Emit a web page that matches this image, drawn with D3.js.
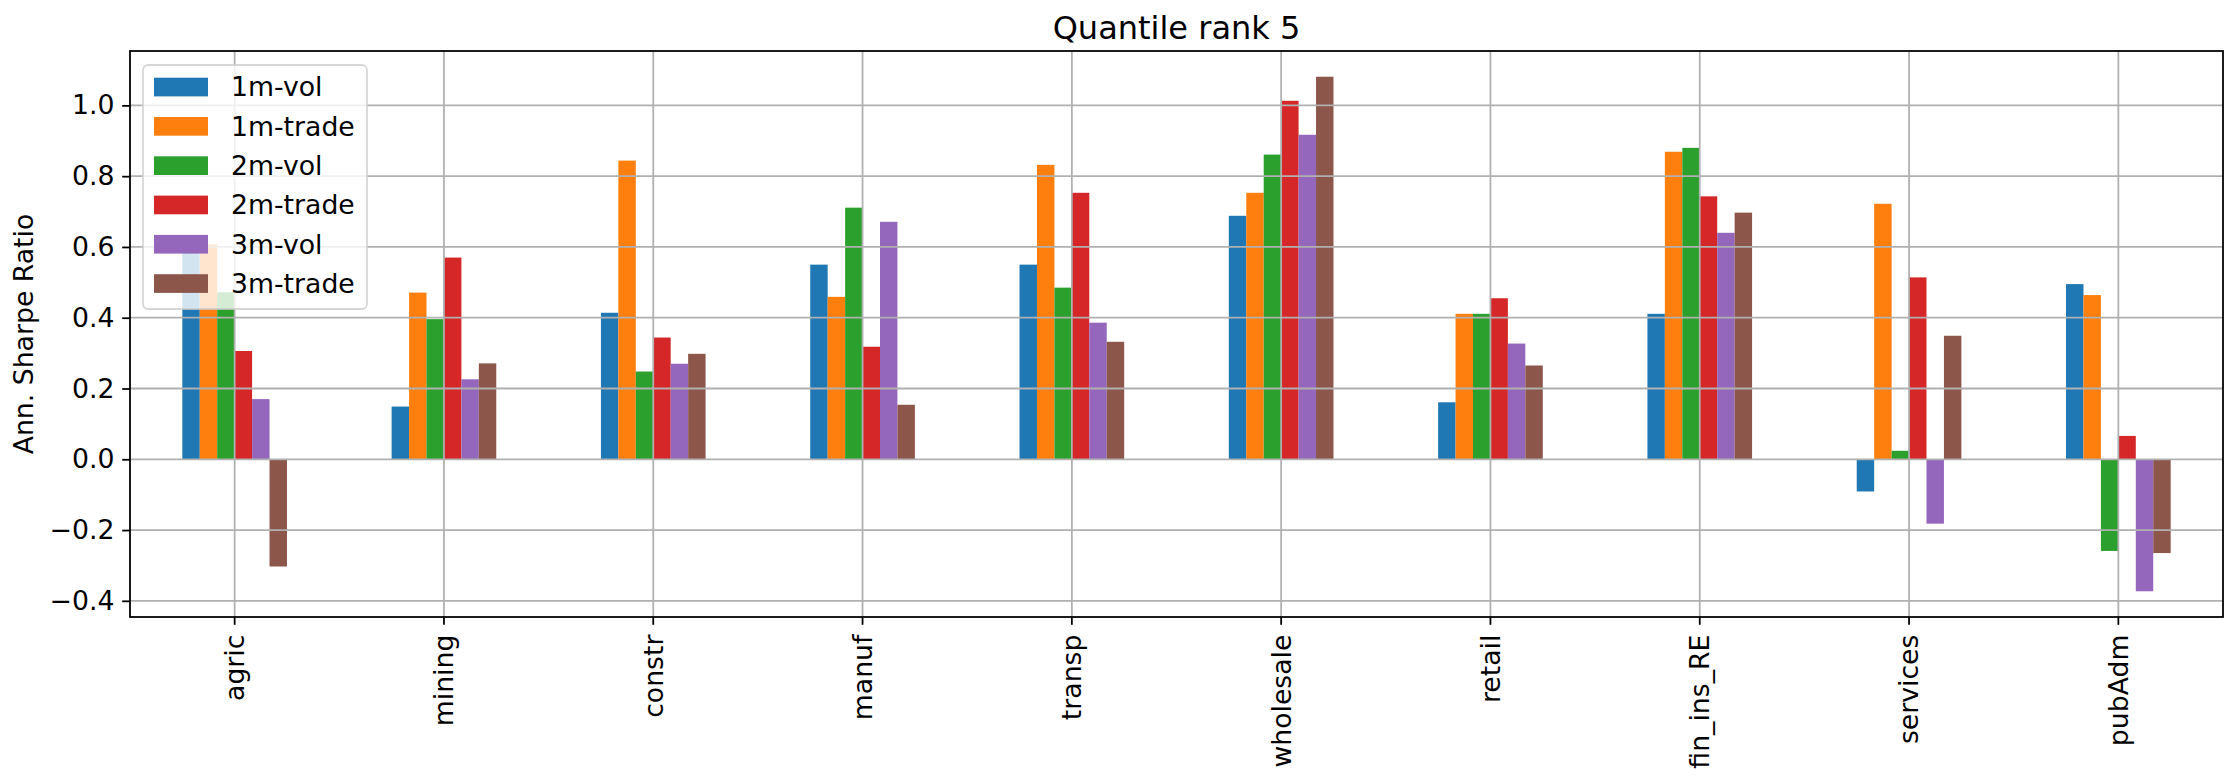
<!DOCTYPE html>
<html>
<head>
<meta charset="utf-8">
<script src="https://cdn.jsdelivr.net/npm/d3@7"></script>
<style>
  body { margin: 0; background: #fff; }
  text { font-family: "DejaVu Sans", sans-serif; }
</style>
</head>
<body>
<div id="chart"></div>
<script>
const categories = ["agric", "mining", "constr", "manuf", "transp", "wholesale", "retail", "fin_ins_RE", "services", "pubAdm"]
const seriesNames = ["1m-vol", "1m-trade", "2m-vol", "2m-trade", "3m-vol", "3m-trade"]

const vol1m   = [0.600, 0.149, 0.414, 0.550, 0.550, 0.688, 0.161, 0.411, -0.091, 0.495]
const trade1m = [0.607, 0.471, 0.844, 0.459, 0.832, 0.753, 0.411, 0.869, 0.722, 0.464]
const vol2m   = [0.472, 0.396, 0.248, 0.711, 0.485, 0.861, 0.411, 0.880, 0.024, -0.259]
const trade2m = [0.306, 0.570, 0.344, 0.318, 0.753, 1.013, 0.455, 0.743, 0.514, 0.066]
const vol3m   = [0.170, 0.226, 0.270, 0.671, 0.386, 0.917, 0.327, 0.640, -0.182, -0.373]
const trade3m = [-0.303, 0.271, 0.298, 0.154, 0.332, 1.081, 0.265, 0.697, 0.349, -0.265]

const yTicks = [-0.4, -0.2, 0.0, 0.2, 0.4, 0.6, 0.8, 1.0]
const colors = ["#1f77b4", "#ff7f0e", "#2ca02c", "#d62728", "#9467bd", "#8c564b"]

const seriesValues = [vol1m, trade1m, vol2m, trade2m, vol3m, trade3m]

const width = 2237,
      height = 783,
      margin = {top: 51, right: 14, bottom: 166, left: 130}

const fs = 26.7, tickLen = 7.8, tickPad = 7.8, lw = 1.78

// flat rows for the bars
const rows = []
categories.forEach((c, i) => {
  seriesNames.forEach((s, j) => rows.push({cat: c, series: s, value: seriesValues[j][i], color: colors[j]}))
})

const all = rows.map(d => d.value)
const lo = d3.min(all), hi = d3.max(all), pad = (hi - lo) * 0.05

let x = d3.scaleBand()
    .domain(categories)
    .range([margin.left, width - margin.right])
    .padding(0)

let xInner = d3.scaleBand()
    .domain(seriesNames)
    .range([x.bandwidth() * 0.25, x.bandwidth() * 0.75])
    .padding(0)

let y = d3.scaleLinear()
    .domain([lo - pad, hi + pad])
    .range([height - margin.bottom, margin.top])

const svg = d3.select("#chart")
  .append("svg")
    .attr("width", width)
    .attr("height", height)
    .attr("viewBox", [0, 0, width, height])

// bars
svg.append("g")
  .selectAll("rect")
  .data(rows)
  .join("rect")
    .attr("x", d => x(d.cat) + xInner(d.series))
    .attr("width", xInner.bandwidth())
    .attr("y", d => y(Math.max(0, d.value)))
    .attr("height", d => Math.abs(y(d.value) - y(0)))
    .attr("fill", d => d.color)

// grid lines (drawn over the bars, like matplotlib)
const grid = svg.append("g")
    .attr("stroke", "#b0b0b0")
    .attr("stroke-width", lw)
grid.selectAll("line.h")
  .data(yTicks)
  .join("line")
    .attr("class", "h")
    .attr("x1", margin.left).attr("x2", width - margin.right)
    .attr("y1", d => y(d)).attr("y2", d => y(d))
grid.selectAll("line.v")
  .data(categories)
  .join("line")
    .attr("class", "v")
    .attr("x1", d => x(d) + x.bandwidth() / 2).attr("x2", d => x(d) + x.bandwidth() / 2)
    .attr("y1", margin.top).attr("y2", height - margin.bottom)

// axes
let xAxis = g => g
    .attr("transform", `translate(0,${height - margin.bottom})`)
    .call(d3.axisBottom(x).tickSize(tickLen).tickSizeOuter(0))
    .call(g => g.select(".domain").remove())
    .call(g => g.selectAll(".tick line").attr("stroke", "#000").attr("stroke-width", lw))
    .call(g => g.selectAll(".tick text")
        .attr("transform", "rotate(-90)")
        .attr("x", -(tickLen + tickPad + 2))
        .attr("y", 0)
        .attr("dy", "0.35em")
        .attr("text-anchor", "end")
        .attr("fill", "#000")
        .attr("font-size", fs)
        .attr("font-family", "DejaVu Sans"))

let yAxis = g => g
    .attr("transform", `translate(${margin.left},0)`)
    .call(d3.axisLeft(y).tickValues(yTicks).tickSize(tickLen).tickPadding(tickPad)
        .tickFormat(d => d3.format(".1f")(d).replace("-", "\u2212")))
    .call(g => g.select(".domain").remove())
    .call(g => g.selectAll(".tick line").attr("stroke", "#000").attr("stroke-width", lw))
    .call(g => g.selectAll(".tick text")
        .attr("fill", "#000")
        .attr("font-size", fs)
        .attr("font-family", "DejaVu Sans"))

svg.append("g").call(xAxis)
svg.append("g").call(yAxis)

// frame
svg.append("rect")
    .attr("x", margin.left)
    .attr("y", margin.top)
    .attr("width", width - margin.left - margin.right)
    .attr("height", height - margin.top - margin.bottom)
    .attr("fill", "none")
    .attr("stroke", "#000")
    .attr("stroke-width", lw)

// title and y label
svg.append("text")
    .attr("x", (margin.left + width - margin.right) / 2)
    .attr("y", 39)
    .attr("text-anchor", "middle")
    .attr("font-size", 32)
    .text("Quantile rank 5")

svg.append("text")
    .attr("transform", `translate(33,${(margin.top + height - margin.bottom) / 2}) rotate(-90)`)
    .attr("text-anchor", "middle")
    .attr("font-size", fs)
    .text("Ann. Sharpe Ratio")

// legend
const legend = svg.append("g")
    .attr("transform", `translate(${margin.left + 13},${margin.top + 14})`)

legend.append("rect")
    .attr("width", 224)
    .attr("height", 244)
    .attr("rx", 5)
    .attr("fill", "#fff")
    .attr("fill-opacity", 0.8)
    .attr("stroke", "#cccccc")
    .attr("stroke-opacity", 0.8)
    .attr("stroke-width", lw)

const item = legend.selectAll("g.item")
  .data(seriesNames)
  .join("g")
    .attr("class", "item")
    .attr("transform", (d, i) => `translate(0,${22 + i * 39.3})`)

item.append("rect")
    .attr("x", 11)
    .attr("y", -9.3)
    .attr("width", 54)
    .attr("height", 18.7)
    .attr("fill", (d, i) => colors[i])

item.append("text")
    .attr("x", 88)
    .attr("dy", "0.35em")
    .attr("font-size", fs)
    .text(d => d)
</script>
</body>
</html>
